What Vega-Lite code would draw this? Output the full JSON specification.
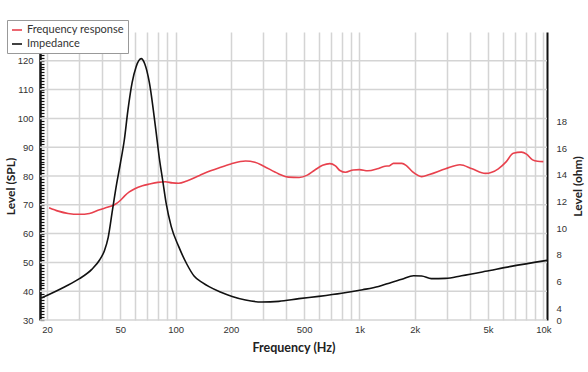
{
  "$schema": "https://vega.github.io/schema/vega-lite/v6.json",
  "width": 507,
  "height": 288,
  "autosize": {"type": "none"},
  "padding": {"left": 40, "top": 32, "right": 41, "bottom": 52},
  "background": "white",
  "config": {"view": {"stroke": null}, "font": "Lato"},
  "datasets": {
    "grid": [
      {"level": 30}, {"level": 40}, {"level": 50}, {"level": 60}, {"level": 70},
      {"level": 80}, {"level": 90}, {"level": 100}, {"level": 110}, {"level": 120}
    ],
    "fr": [
      {"freq": 20.5, "spl": 69.0}, {"freq": 23, "spl": 67.8}, {"freq": 26, "spl": 67.0},
      {"freq": 30, "spl": 66.7}, {"freq": 34, "spl": 67.0}, {"freq": 38.6, "spl": 68.3},
      {"freq": 43, "spl": 69.2}, {"freq": 46.5, "spl": 70.0}, {"freq": 50, "spl": 71.5},
      {"freq": 53, "spl": 73.2}, {"freq": 56, "spl": 74.5}, {"freq": 60, "spl": 75.6},
      {"freq": 66, "spl": 76.6}, {"freq": 72, "spl": 77.2}, {"freq": 80, "spl": 77.8},
      {"freq": 88, "spl": 78.0}, {"freq": 96, "spl": 77.6}, {"freq": 104, "spl": 77.5},
      {"freq": 115, "spl": 78.3}, {"freq": 135, "spl": 80.2}, {"freq": 155, "spl": 81.8},
      {"freq": 173, "spl": 82.9}, {"freq": 200, "spl": 84.2}, {"freq": 240, "spl": 85.2},
      {"freq": 270, "spl": 84.8}, {"freq": 300, "spl": 83.5}, {"freq": 362, "spl": 80.8},
      {"freq": 410, "spl": 79.6}, {"freq": 470, "spl": 79.5}, {"freq": 520, "spl": 80.3},
      {"freq": 570, "spl": 82.0}, {"freq": 630, "spl": 83.7}, {"freq": 690, "spl": 84.3},
      {"freq": 740, "spl": 83.5}, {"freq": 783, "spl": 81.9}, {"freq": 840, "spl": 81.3},
      {"freq": 925, "spl": 82.1}, {"freq": 1000, "spl": 82.2}, {"freq": 1110, "spl": 81.8},
      {"freq": 1250, "spl": 82.5}, {"freq": 1375, "spl": 83.4}, {"freq": 1450, "spl": 83.5},
      {"freq": 1530, "spl": 84.4}, {"freq": 1700, "spl": 84.4}, {"freq": 1800, "spl": 83.6},
      {"freq": 1940, "spl": 81.5}, {"freq": 2180, "spl": 79.8}, {"freq": 2400, "spl": 80.5},
      {"freq": 2940, "spl": 82.5}, {"freq": 3520, "spl": 83.9}, {"freq": 4100, "spl": 82.5},
      {"freq": 4840, "spl": 80.9}, {"freq": 5690, "spl": 82.5}, {"freq": 6290, "spl": 85.0},
      {"freq": 6860, "spl": 87.9}, {"freq": 7600, "spl": 88.3}, {"freq": 8100, "spl": 87.6},
      {"freq": 8740, "spl": 85.6}, {"freq": 9300, "spl": 85.1}, {"freq": 10000, "spl": 85.0}
    ],
    "imp": [
      {"freq": 18.6, "ohm": 4.75}, {"freq": 25, "ohm": 5.6}, {"freq": 30, "ohm": 6.2},
      {"freq": 35, "ohm": 6.9}, {"freq": 38.6, "ohm": 7.6}, {"freq": 41, "ohm": 8.3},
      {"freq": 43, "ohm": 9.3}, {"freq": 45.3, "ohm": 11.3}, {"freq": 47.5, "ohm": 13.1},
      {"freq": 50, "ohm": 14.8}, {"freq": 52.6, "ohm": 16.6}, {"freq": 55, "ohm": 18.8},
      {"freq": 58, "ohm": 20.9}, {"freq": 61, "ohm": 22.1}, {"freq": 65, "ohm": 22.7},
      {"freq": 68, "ohm": 22.3}, {"freq": 72, "ohm": 20.9}, {"freq": 78, "ohm": 17.4},
      {"freq": 82, "ohm": 15.0}, {"freq": 85, "ohm": 13.6}, {"freq": 88.7, "ohm": 11.9},
      {"freq": 94.7, "ohm": 10.1}, {"freq": 104, "ohm": 8.6}, {"freq": 115, "ohm": 7.3},
      {"freq": 126, "ohm": 6.4}, {"freq": 140, "ohm": 5.9}, {"freq": 152, "ohm": 5.6},
      {"freq": 175, "ohm": 5.2}, {"freq": 203, "ohm": 4.87}, {"freq": 240, "ohm": 4.6},
      {"freq": 294, "ohm": 4.45}, {"freq": 364, "ohm": 4.5}, {"freq": 469, "ohm": 4.7},
      {"freq": 600, "ohm": 4.87}, {"freq": 800, "ohm": 5.1}, {"freq": 1040, "ohm": 5.37},
      {"freq": 1270, "ohm": 5.62}, {"freq": 1490, "ohm": 5.92}, {"freq": 1700, "ohm": 6.15},
      {"freq": 1970, "ohm": 6.42}, {"freq": 2180, "ohm": 6.4}, {"freq": 2460, "ohm": 6.2},
      {"freq": 2940, "ohm": 6.22}, {"freq": 3590, "ohm": 6.42}, {"freq": 4840, "ohm": 6.75},
      {"freq": 6670, "ohm": 7.12}, {"freq": 10470, "ohm": 7.57}
    ]
  },
  "layer": [
    {
      "data": {"name": "grid"},
      "mark": {"type": "rule", "color": "#d4d4d4", "strokeWidth": 1.5},
      "encoding": {
        "x": {"datum": 18.3, "type": "quantitative"},
        "x2": {"datum": 10470},
        "y": {
          "field": "level", "type": "quantitative",
          "scale": {"domain": [30, 130], "nice": false, "zero": false},
          "axis": null
        }
      }
    },
    {
      "data": {"name": "fr"},
      "mark": {"type": "line", "strokeWidth": 1.6, "interpolate": "monotone"},
      "encoding": {
        "x": {
          "field": "freq", "type": "quantitative",
          "scale": {"type": "log", "domain": [18.3, 10470], "nice": false},
          "axis": {
            "title": "Frequency (Hz)",
            "values": [20, 30, 40, 50, 60, 70, 80, 90, 100, 200, 300, 400, 500, 600, 700, 800, 900, 1000, 2000, 3000, 4000, 5000, 6000, 7000, 8000, 9000, 10000],
            "labelExpr": "indexof([20,50,100,200,500,1000,2000,5000,10000], datum.value) >= 0 ? (datum.value >= 1000 ? (datum.value/1000) + 'k' : '' + datum.value) : ''",
            "labelOverlap": false,
            "labelFont": "Liberation Sans", "labelFontSize": 9.5, "labelColor": "#333",
            "labelPadding": 4,
            "ticks": false, "domain": false,
            "grid": true, "gridColor": "#d4d4d4", "gridWidth": 1.5,
            "titleFont": "Lato", "titleFontWeight": "bold", "titleFontSize": 12.5, "titleColor": "#222",
            "titlePadding": 8
          }
        },
        "y": {
          "field": "spl", "type": "quantitative",
          "scale": {"domain": [30, 130], "nice": false, "zero": false},
          "axis": {
            "title": "Level (SPL)",
            "tickCount": 101,
            "labelExpr": "datum.value % 10 === 0 && datum.value <= 120 ? datum.label : ''",
            "labelOverlap": false,
            "labelFont": "Liberation Sans", "labelFontSize": 9.5, "labelColor": "#333",
            "ticks": true, "tickSize": -4, "tickColor": "#111", "tickWidth": 1.2,
            "labelPadding": 11,
            "domain": true, "domainColor": "#111", "domainWidth": 2.5,
            "grid": false,
            "titleFont": "Lato", "titleFontWeight": "bold", "titleFontSize": 12, "titleColor": "#222",
            "titlePadding": 0, "titleY": 154
          }
        },
        "color": {
          "datum": "Frequency response",
          "type": "nominal",
          "scale": {"domain": ["Frequency response", "Impedance"], "range": ["#e8414d", "#111111"]},
          "legend": {
            "title": null, "orient": "none", "legendX": -33, "legendY": -12,
            "symbolType": "stroke", "symbolSize": 100, "symbolStrokeWidth": 1.6,
            "labelFont": "Lato", "labelFontSize": 11, "labelColor": "#333", "labelOffset": 4,
            "padding": 4, "rowPadding": 3,
            "fillColor": "white", "strokeColor": "#999"
          }
        }
      }
    },
    {
      "data": {"name": "imp"},
      "mark": {"type": "line", "strokeWidth": 1.6, "interpolate": "monotone"},
      "encoding": {
        "x": {"field": "freq", "type": "quantitative"},
        "y": {
          "field": "ohm", "type": "quantitative",
          "scale": {"domain": [0, 4, 24.7], "range": [288, 276, 0], "nice": false, "zero": false},
          "axis": {
            "orient": "right",
            "title": "Level (ohm)",
            "values": [0, 4, 6, 8, 10, 12, 14, 16, 18],
            "labelFont": "Liberation Sans", "labelFontSize": 9.5, "labelColor": "#333",
            "ticks": false, "labelPadding": 9,
            "domain": true, "domainColor": "#111", "domainWidth": 2,
            "grid": false,
            "titleFont": "Lato", "titleFontWeight": "bold", "titleFontSize": 12, "titleColor": "#222",
            "titleAngle": 270, "titlePadding": 18, "titleY": 154
          }
        },
        "color": {"datum": "Impedance", "type": "nominal"}
      }
    }
  ],
  "resolve": {"scale": {"y": "independent"}}
}
